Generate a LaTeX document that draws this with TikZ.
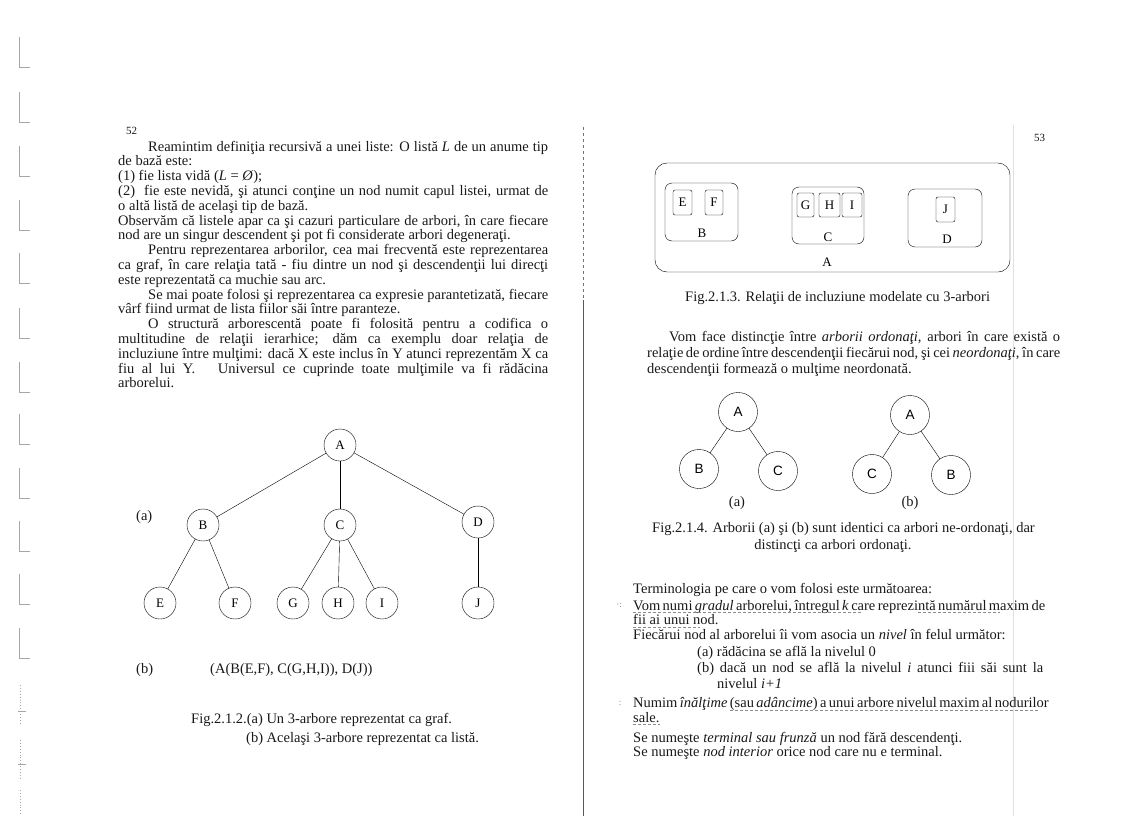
\documentclass[tikz,border=0pt]{standalone}
\usepackage{fontspec}
\setmainfont{Liberation Serif}
\newfontfamily\arialfont{Liberation Sans}
\newcommand{\jline}[2]{\makebox[#1][s]{#2}}
\begin{document}
\begin{tikzpicture}[x=1pt,y=1pt]
    \tikzstyle{every node}+=[inner sep=0pt]
    \tikzstyle{txt}=[anchor=base west, font=\fontsize{14.5}{16}\selectfont, text=black!90]
    \tikzstyle{vertex}=[draw, circle, minimum size=32pt, font=\fontsize{13}{14}\selectfont]
    \tikzstyle{bigvertex}=[draw, circle, minimum size=39pt, font=\arialfont\fontsize{13.5}{14}\selectfont]
    \tikzstyle{setbox}=[draw, rounded corners=7pt]
    \tikzstyle{leafbox}=[draw, rounded corners=2pt, font=\fontsize{13}{14}\selectfont]
    \tikzstyle{scan}=[black!35, line width=0.9pt]
    \useasboundingbox (0,0) rectangle (1123,-816);
    \fill [white] (0,0) rectangle (1123,-816);
    \draw [scan] (19,-37) -- (19,-67) -- (30,-67);
    \draw [scan] (19,-92) -- (19,-122) -- (30,-122);
    \draw [scan] (19,-146) -- (19,-176) -- (30,-176);
    \draw [scan] (19,-200) -- (19,-230) -- (30,-230);
    \draw [scan] (19,-253) -- (19,-283) -- (30,-283);
    \draw [scan] (19,-308) -- (19,-338) -- (30,-338);
    \draw [scan] (19,-362) -- (19,-392) -- (30,-392);
    \draw [scan] (19,-414) -- (19,-444) -- (30,-444);
    \draw [scan] (19,-468) -- (19,-498) -- (30,-498);
    \draw [scan] (19,-521) -- (19,-551) -- (30,-551);
    \draw [scan] (19,-574) -- (19,-604) -- (30,-604);
    \draw [scan] (19,-628) -- (19,-658) -- (30,-658);
    \draw [scan, dotted] (20,-685) -- (20,-725);
    \draw [scan] (18,-711) -- (26,-711);
    \draw [scan, dotted] (20,-740) -- (20,-780);
    \draw [scan] (18,-764) -- (26,-764);
    \draw [scan, dotted] (20,-790) -- (20,-816);
    \draw [black!55, dashed, line width=0.8pt] (583,-127) -- (583,-300);
    \draw [black!65, line width=0.8pt] (583,-300) -- (583,-816);
    \draw [black!12, line width=0.6pt] (1013,-125) -- (1013,-816);
    \node [txt, font=\fontsize{11}{12}\selectfont] (p52) at (126,-134) {52};
    \node [txt] (l1) at (148,-151) {\jline{400pt}{Reamintim definiţia recursivă a unei liste: O listă \textit{L} de un anume tip}};
    \node [txt] (l2) at (118,-165.8) {de bază este:};
    \node [txt] (l3) at (118,-180.6) {(1) fie lista vidă (\textit{L} = \textit{Ø});};
    \node [txt] (l4) at (118,-195.4) {\jline{430pt}{(2)\ \ fie este nevidă, şi atunci conţine un nod numit capul listei, urmat de}};
    \node [txt] (l5) at (118,-210.2) {o altă listă de acelaşi tip de bază.};
    \node [txt] (l6) at (118,-225) {\jline{430pt}{Observăm că listele apar ca şi cazuri particulare de arbori, în care fiecare}};
    \node [txt] (l7) at (118,-239.8) {nod are un singur descendent şi pot fi considerate arbori degeneraţi.};
    \node [txt] (l8) at (148,-254.6) {\jline{400pt}{Pentru reprezentarea arborilor, cea mai frecventă este reprezentarea}};
    \node [txt] (l9) at (118,-269.4) {\jline{430pt}{ca graf, în care relaţia tată - fiu dintre un nod şi descendenţii lui direcţi}};
    \node [txt] (l10) at (118,-284.2) {este reprezentată ca muchie sau arc.};
    \node [txt] (l11) at (148,-299) {\jline{400pt}{Se mai poate folosi şi reprezentarea ca expresie parantetizată, fiecare}};
    \node [txt] (l12) at (118,-313.8) {vârf fiind urmat de lista fiilor săi între paranteze.};
    \node [txt] (l13) at (148,-328.6) {\jline{400pt}{O structură arborescentă poate fi folosită pentru a codifica o}};
    \node [txt] (l14) at (118,-343.4) {\jline{430pt}{multitudine de relaţii ierarhice; dăm ca exemplu doar relaţia de}};
    \node [txt] (l15) at (118,-358.2) {\jline{430pt}{incluziune între mulţimi: dacă X este inclus în Y atunci reprezentăm X ca}};
    \node [txt] (l16) at (118,-373) {\jline{430pt}{fiu al lui Y.\ \ \ Universul ce cuprinde toate mulţimile va fi rădăcina}};
    \node [txt] (l17) at (118,-387.8) {arborelui.};
    \node [vertex] (A) at (340,-445) {A};
    \node [vertex] (B) at (203,-525) {B};
    \node [vertex] (C) at (340,-525) {C};
    \node [vertex] (D) at (478,-522) {D};
    \node [vertex] (E) at (160,-603) {E};
    \node [vertex] (F) at (235,-603) {F};
    \node [vertex] (G) at (293,-603) {G};
    \node [vertex] (H) at (338,-603) {H};
    \node [vertex] (I) at (382,-603) {I};
    \node [vertex] (J) at (478,-603) {J};
    \draw (A) -- (B);
    \draw (A) -- (C);
    \draw (A) -- (D);
    \draw (B) -- (E);
    \draw (B) -- (F);
    \draw (C) -- (G);
    \draw (C) -- (H);
    \draw (C) -- (I);
    \draw (D) -- (J);
    \node [txt] (la) at (136,-520) {(a)};
    \node [txt] (lb) at (136,-673) {(b)};
    \node [txt] (expr) at (210,-673) {(A(B(E,F), C(G,H,I)), D(J))};
    \node [txt] (cap2a) at (191,-723) {Fig.2.1.2.(a) Un 3-arbore reprezentat ca graf.};
    \node [txt] (cap2b) at (246,-742) {(b) Acelaşi 3-arbore reprezentat ca listă.};
    \node [txt, font=\fontsize{11}{12}\selectfont] (p53) at (1034,-141) {53};
    \node [setbox, rounded corners=12pt, minimum width=355pt, minimum height=109pt] (boxA) at (832.5,-217.5) {};
    \node [setbox, minimum width=73pt, minimum height=58pt] (boxB) at (701.5,-212) {};
    \node [setbox, minimum width=72pt, minimum height=57pt] (boxC) at (828,-215.5) {};
    \node [setbox, minimum width=74pt, minimum height=58pt] (boxD) at (945,-218) {};
    \node [leafbox, minimum width=19pt, minimum height=25pt] (bE) at (682.5,-202.5) {E};
    \node [leafbox, minimum width=18pt, minimum height=25pt] (bF) at (714,-202.5) {F};
    \node [leafbox, minimum width=17pt, minimum height=24pt] (bG) at (805.5,-205) {G};
    \node [leafbox, minimum width=21pt, minimum height=24pt] (bH) at (829.5,-205) {H};
    \node [leafbox, minimum width=20pt, minimum height=24pt] (bI) at (852,-205) {I};
    \node [leafbox, minimum width=19pt, minimum height=25pt] (bJ) at (945.5,-209.5) {J};
    \node [font=\fontsize{13}{14}\selectfont] (nA) at (827,-262) {A};
    \node [font=\fontsize{13}{14}\selectfont] (nB) at (702,-233) {B};
    \node [font=\fontsize{13}{14}\selectfont] (nC) at (828,-237) {C};
    \node [font=\fontsize{13}{14}\selectfont] (nD) at (947,-239) {D};
    \node [txt] (cap3) at (685,-301) {Fig.2.1.3. Relaţii de incluziune modelate cu 3-arbori};
    \node [txt] (r1) at (669,-341) {\jline{391pt}{Vom face distincţie între \textit{arborii ordonaţi}, arbori în care există o}};
    \node [txt] (r2) at (647,-357) {\jline{413pt}{relaţie de ordine între descendenţii fiecărui nod, şi cei \textit{neordonaţi}, în care}};
    \node [txt] (r3) at (647,-373) {descendenţii formează o mulţime neordonată.};
    \node [bigvertex] (oA) at (738,-412) {A};
    \node [bigvertex] (oB) at (699,-469) {B};
    \node [bigvertex] (oC) at (778,-471) {C};
    \draw (oA) -- (oB);
    \draw (oA) -- (oC);
    \node [bigvertex] (uA) at (910,-415) {A};
    \node [bigvertex] (uC) at (872,-474) {C};
    \node [bigvertex] (uB) at (951,-475) {B};
    \draw (uA) -- (uC);
    \draw (uA) -- (uB);
    \node [txt, anchor=base] (ta) at (737,-506) {(a)};
    \node [txt, anchor=base] (tb) at (910,-506) {(b)};
    \node [txt] (cap4a) at (652,-532) {Fig.2.1.4. Arborii (a) şi (b) sunt identici ca arbori ne-ordonaţi, dar};
    \node [txt, anchor=base] (cap4b) at (833,-549) {distincţi ca arbori ordonaţi.};
    \node [txt] (t1) at (633,-593) {Terminologia pe care o vom folosi este următoarea:};
    \node [txt] (t2) at (633,-610) {\jline{410pt}{Vom numi \textit{gradul} arborelui, întregul \textit{k} care reprezintă numărul maxim de}};
    \node [txt] (t3) at (633,-624.5) {fii ai unui nod.};
    \node [txt] (t4) at (633,-639) {Fiecărui nod al arborelui îi vom asocia un \textit{nivel} în felul următor:};
    \node [txt] (t5) at (697,-656) {(a) rădăcina se află la nivelul 0};
    \node [txt] (t6) at (697,-672.5) {\jline{346pt}{(b) dacă un nod se află la nivelul \textit{i} atunci fiii săi sunt la}};
    \node [txt] (t7) at (717,-688.5) {nivelul \textit{i+1}};
    \node [txt] (t8) at (633,-707.5) {\jline{410pt}{Numim \textit{înălţime} (sau \textit{adâncime}) a unui arbore nivelul maxim al nodurilor}};
    \node [txt] (t9) at (633,-722) {sale.};
    \node [txt] (t10) at (633,-742) {Se numeşte \textit{terminal sau frunză} un nod fără descendenţi.};
    \node [txt] (t11) at (633,-756.5) {Se numeşte \textit{nod interior} orice nod care nu e terminal.};
    \draw [black!45, densely dashed, line width=0.5pt] (633,-612.5) -- (862,-612.5);
    \draw [black!45, densely dashed, line width=0.5pt] (918,-612.5) -- (1000,-612.5);
    \draw [black!45, densely dashed, line width=0.5pt] (633,-627) -- (700,-627);
    \draw [black!45, densely dashed, line width=0.5pt] (730,-710) -- (1040,-710);
    \draw [black!45, densely dashed, line width=0.5pt] (633,-724.5) -- (660,-724.5);
    \node [text=black!50, font=\fontsize{9}{10}\selectfont] (m1) at (619,-605) {·:};
    \node [text=black!50, font=\fontsize{9}{10}\selectfont] (m2) at (620,-703) {:};
\end{tikzpicture}
\end{document}
